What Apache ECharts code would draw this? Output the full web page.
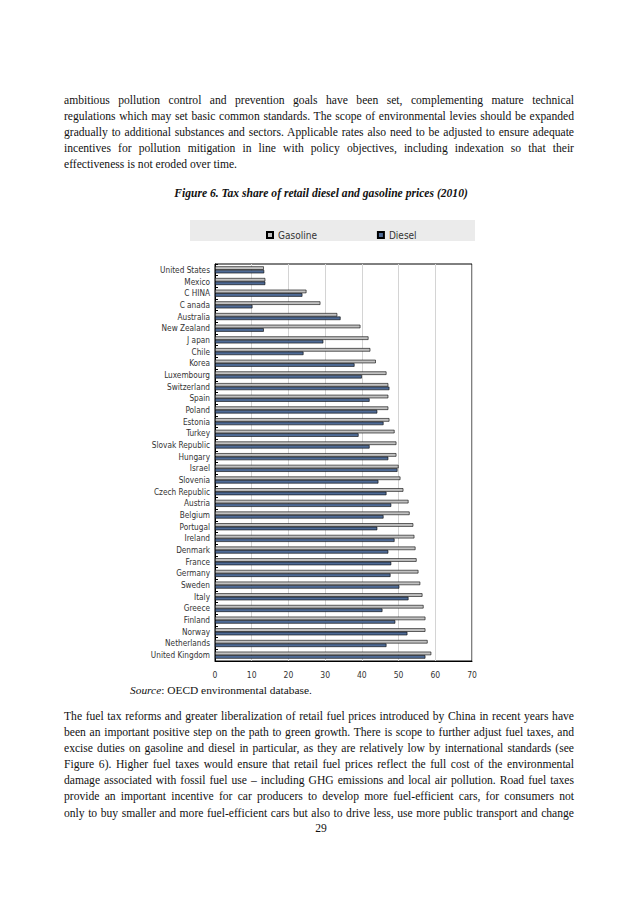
<!DOCTYPE html>
<html>
<head>
<meta charset="utf-8">
<script src="https://cdn.jsdelivr.net/npm/echarts@6/dist/echarts.min.js"></script>
<style>
  html, body { margin:0; padding:0; background:#fff; }
  body { width:638px; height:903px; position:relative; overflow:hidden; font-family:"Liberation Serif","Times New Roman",serif; color:#111; }
  .para { position:absolute; left:64px; width:510px; font-size:11.6px; line-height:16.1px; }
  .para div { white-space:nowrap; text-align:justify; text-align-last:justify; }
  .para div.last { text-align-last:left; }
  .title { position:absolute; left:0; width:642px; top:186px; text-align:center; font-weight:bold; font-style:italic; font-size:11.6px; line-height:16px; }
  .source { position:absolute; left:130px; top:682px; font-size:11.4px; line-height:16px; }
  .pnum { position:absolute; left:0; width:642px; top:821px; text-align:center; font-size:11.6px; line-height:16px; }
  #chart { position:absolute; left:0; top:205px; width:638px; height:478px; }
</style>
</head>
<body>
<div class="para" style="top:93px;">
  <div>ambitious pollution control and prevention goals have been set, complementing mature technical</div>
  <div>regulations which may set basic common standards. The scope of environmental levies should be expanded</div>
  <div>gradually to additional substances and sectors. Applicable rates also need to be adjusted to ensure adequate</div>
  <div>incentives for pollution mitigation in line with policy objectives, including indexation so that their</div>
  <div class="last">effectiveness is not eroded over time.</div>
</div>
<div class="title">Figure 6. Tax share of retail diesel and gasoline prices (2010)</div>
<div id="chart"></div>
<div class="source"><i>Source</i>: OECD environmental database.</div>
<div class="para" style="top:709px;">
  <div>The fuel tax reforms and greater liberalization of retail fuel prices introduced by China in recent years have</div>
  <div>been an important positive step on the path to green growth. There is scope to further adjust fuel taxes, and</div>
  <div>excise duties on gasoline and diesel in particular, as they are relatively low by international standards (see</div>
  <div>Figure 6). Higher fuel taxes would ensure that retail fuel prices reflect the full cost of the environmental</div>
  <div>damage associated with fossil fuel use – including GHG emissions and local air pollution. Road fuel taxes</div>
  <div>provide an important incentive for car producers to develop more fuel-efficient cars, for consumers not</div>
  <div>only to buy smaller and more fuel-efficient cars but also to drive less, use more public transport and change</div>
</div>
<div class="pnum">29</div>
<script>
const countryLabels = ["United States","Mexico","C HINA","C anada","Australia","New Zealand","J apan","Chile","Korea","Luxembourg","Switzerland","Spain","Poland","Estonia","Turkey","Slovak Republic","Hungary","Israel","Slovenia","Czech Republic","Austria","Belgium","Portugal","Ireland","Denmark","France","Germany","Sweden","Italy","Greece","Finland","Norway","Netherlands","United Kingdom"];
const gasoline = [13.3,13.7,24.9,28.7,33.3,39.6,41.8,42.3,43.8,46.7,47.2,47.2,47.2,47.5,48.9,49.4,49.4,50.0,50.5,51.3,52.7,53.0,54.0,54.3,54.6,54.9,55.4,55.9,56.5,56.8,57.3,57.3,57.9,58.9];
const diesel   = [13.4,13.7,23.8,10.2,34.2,13.3,29.5,24.1,38.0,40.0,47.5,42.1,44.2,45.9,39.1,42.1,47.2,49.7,44.5,46.7,48.0,45.9,44.2,48.9,47.2,48.0,47.8,50.2,52.7,45.6,49.1,52.4,46.7,57.3];
const xTicks = [0,10,20,30,40,50,60,70];
const seriesNames = ["Gasoline","Diesel"];

const chart = echarts.init(document.getElementById('chart'), null, {renderer:'svg'});
const narrow = '"Liberation Sans Narrow","Arial Narrow","DejaVu Sans Condensed",sans-serif';
chart.setOption({
  animation:false,
  graphic:[{type:'rect', left:190, top:15, shape:{width:285, height:21}, style:{fill:'#ebebeb'}, z:-1}],
  legend:{
    data:seriesNames, top:20, left:261, itemGap:60, itemWidth:6, itemHeight:6,
    textStyle:{fontFamily:narrow, fontSize:10, color:'#333'},
    icon:'rect'
  },
  grid:{left:215, top:59, width:257, height:397, show:true, borderColor:'#000', borderWidth:1, containLabel:false},
  xAxis:{
    type:'value', min:xTicks[0], max:xTicks[xTicks.length-1], interval:10,
    axisLine:{show:true, lineStyle:{color:'#000', width:1}},
    axisTick:{show:false},
    axisLabel:{fontFamily:narrow, fontSize:8.5, color:'#333', margin:9},
    splitLine:{show:true, lineStyle:{color:'#d4d4d4', width:1}}
  },
  yAxis:{
    type:'category', data:countryLabels, inverse:true,
    axisLine:{show:true, lineStyle:{color:'#000', width:1}},
    axisTick:{show:true, inside:true, length:3, lineStyle:{color:'#000'}},
    axisLabel:{fontFamily:narrow, fontSize:8.2, color:'#333', margin:5, interval:0}
  },
  series:[
    {name:seriesNames[0], type:'bar', data:gasoline, barGap:'0%', barCategoryGap:'40%',
     itemStyle:{color:'#c2c2c2', borderColor:'#000', borderWidth:0.6}},
    {name:seriesNames[1], type:'bar', data:diesel, barGap:'0%', barCategoryGap:'40%',
     itemStyle:{color:'#4f6b96', borderColor:'#000', borderWidth:0.6}}
  ]
});
</script>
</body>
</html>
